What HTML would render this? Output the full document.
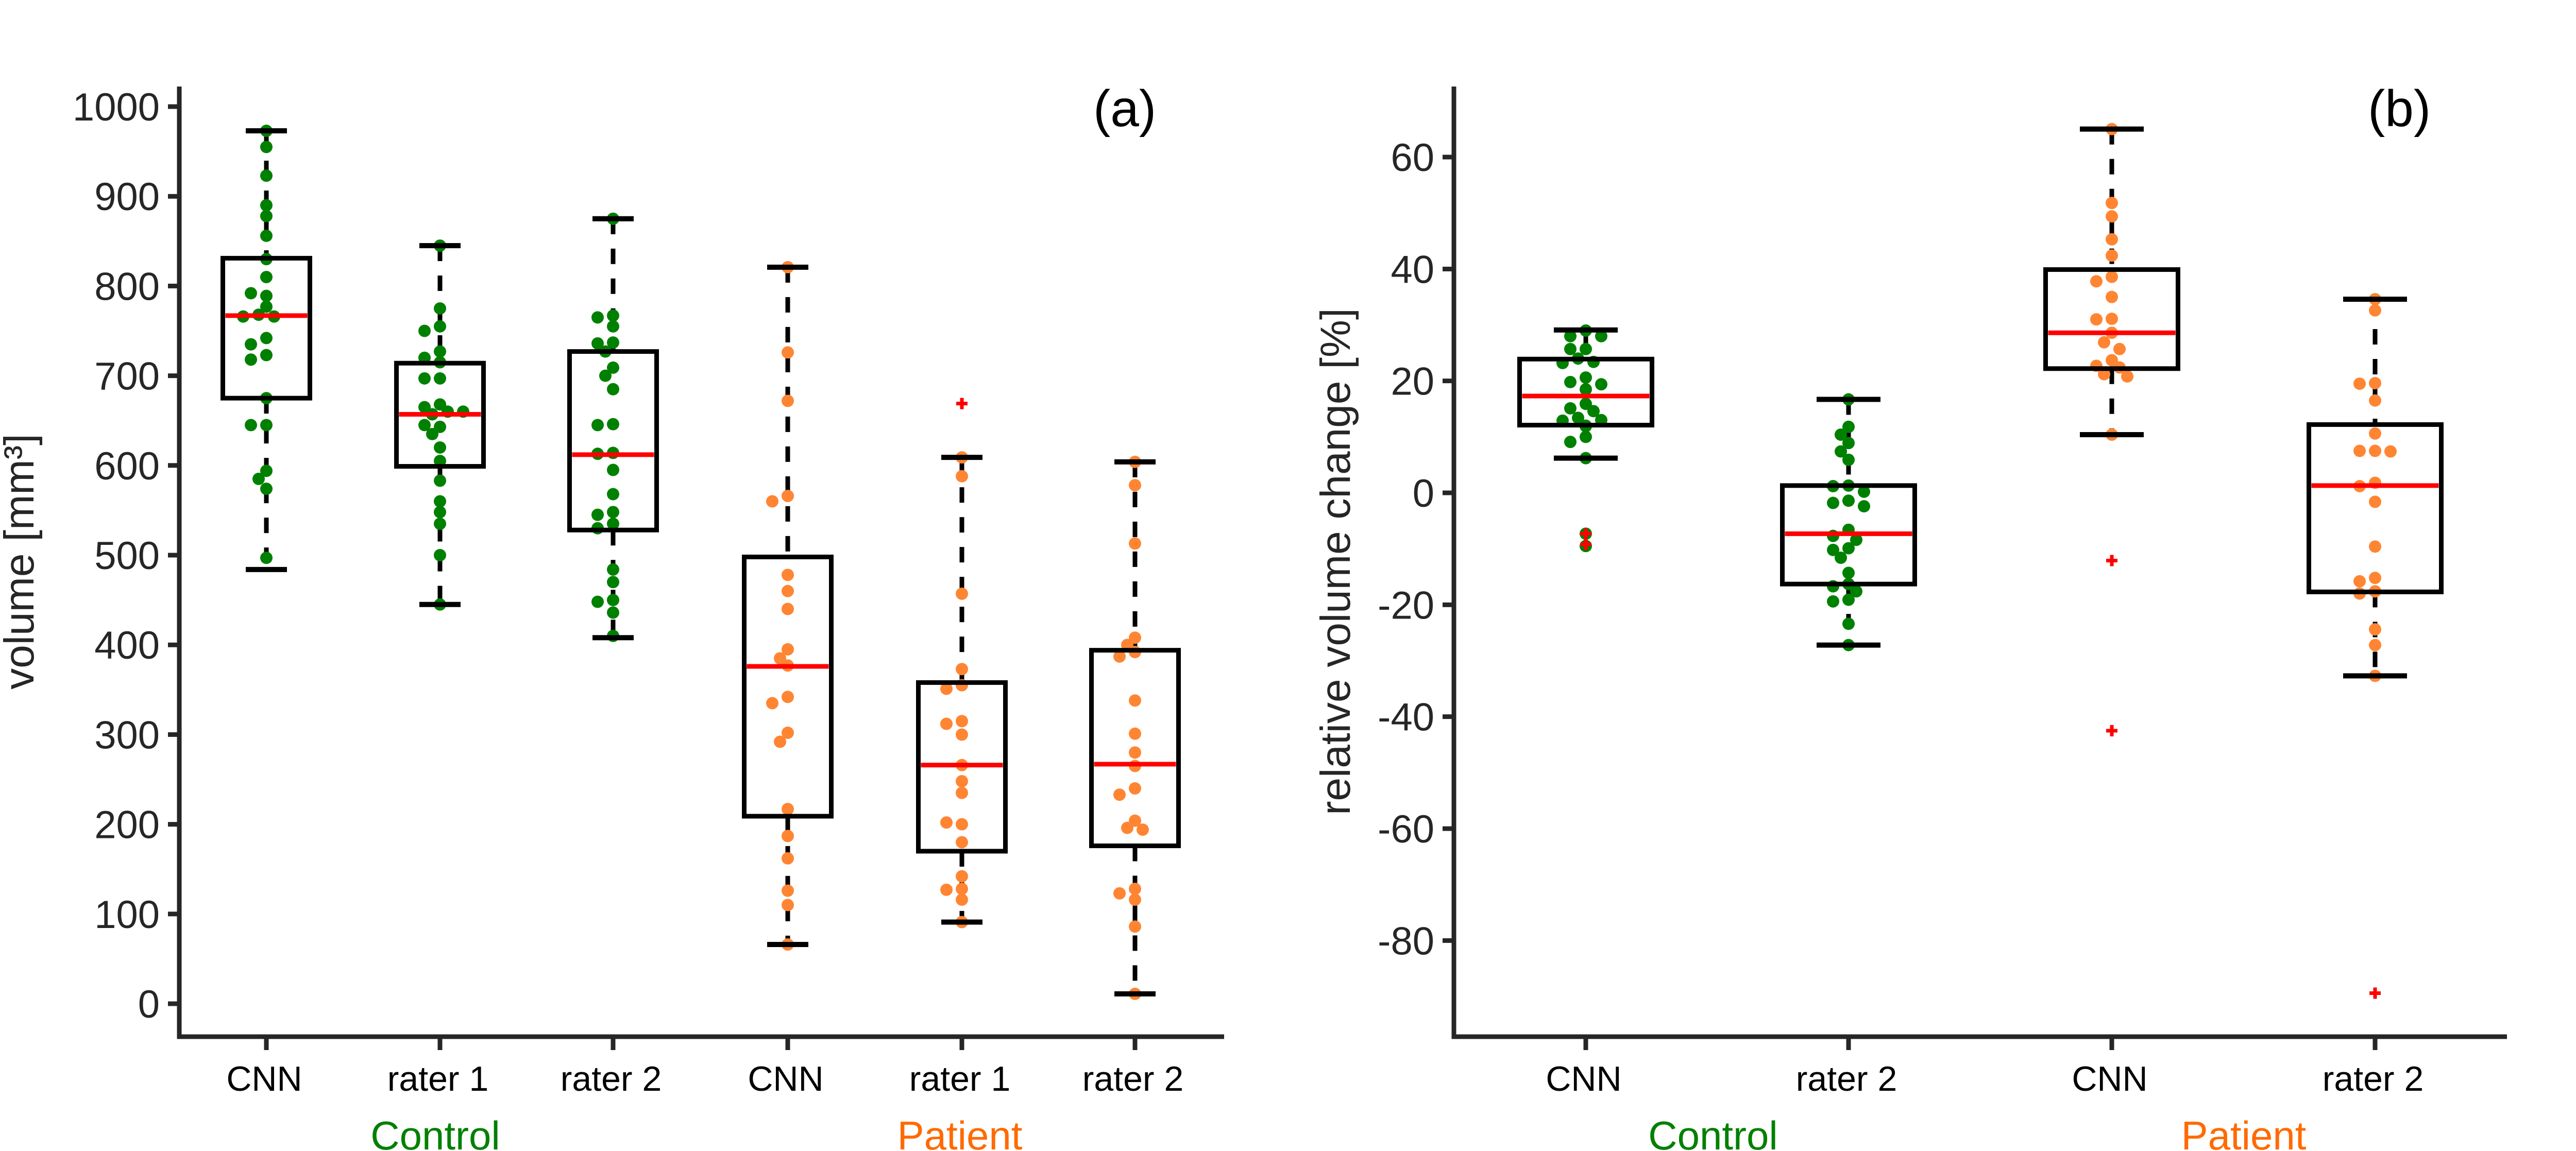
<!DOCTYPE html>
<html><head><meta charset="utf-8"><style>
html,body{margin:0;padding:0;background:#fff;}
svg{display:block;font-family:"Liberation Sans","DejaVu Sans",sans-serif;}
</style></head><body>
<svg id="chart" width="5114" height="2235" viewBox="0 0 5114 2235" xmlns="http://www.w3.org/2000/svg">
<g id="pa"></g>
<g id="pb"></g>
</svg>
<script>
// ---- Panel (a) data: volume [mm3] ----
const catsA = ["CNN","rater 1","rater 2","CNN","rater 1","rater 2"];
const groupA = ["control","control","control","patient","patient","patient"];
const ticksA = [0,100,200,300,400,500,600,700,800,900,1000];
const boxLowA = [675,599,528,209,170,176];
const boxHighA = [831,714,727,498,358,394];
const medianA = [767,657,612,376,266,267];
const whiskLowA = [484,445,408,66,91,11];
const whiskHighA = [973,845,875,821,609,604];
const outliersA = [[],[],[],[],[669],[]];
const ptsA = [
 [973,955,923,890,878,856,830,810,789,792,777,768,766,766,742,735,723,718,675,645,645,594,585,574,497],
 [845,775,755,750,727,720,715,697,697,668,665,660,660,657,643,645,635,620,605,583,560,548,535,500,445],
 [875,767,765,755,737,736,727,709,700,685,646,645,614,613,595,568,548,545,535,530,484,470,450,448,436,410],
 [821,726,672,566,560,478,460,440,395,385,377,342,335,302,292,217,187,162,126,110,66],
 [609,588,457,373,355,351,315,312,300,266,248,235,200,202,180,142,128,127,116,91],
 [604,578,513,408,400,392,387,338,301,280,265,240,233,204,196,194,128,123,116,86,11]
];
// ---- Panel (b) data: relative volume change [%] ----
const catsB = ["CNN","rater 2","CNN","rater 2"];
const groupB = ["control","control","patient","patient"];
const ticksB = [-80,-60,-40,-20,0,20,40,60];
const boxLowB = [12.1,-16.3,22.2,-17.7];
const boxHighB = [23.9,1.3,39.9,12.2];
const medianB = [17.3,-7.3,28.6,1.3];
const whiskLowB = [6.2,-27.2,10.4,-32.7];
const whiskHighB = [29.1,16.7,65,34.6];
const outliersB = [[-7.3,-9.2],[],[-12.1,-42.5],[-89.4]];
const ptsB = [
 [29,28,28,25.7,25.7,24,23.4,23.2,20.6,19.8,19.4,18.5,15.9,15.1,14.6,13.4,13,12.9,12,11.9,10,9.1,6.2,-7.3,-9.5],
 [16.7,11.8,10.4,8.9,7.4,5.9,1.3,1.2,0.2,-1.4,-1.8,-2.4,-6.6,-7.7,-8.4,-9.9,-10.2,-11.6,-14.3,-16.3,-16.7,-17.6,-19.1,-19.4,-23.4,-27.2],
 [65,51.8,49.4,45.3,42.4,38.6,37.8,35,31.1,31,28.6,26.9,25.7,23.7,22.7,22.4,21.2,20.8,10.4],
 [34.6,32.6,19.6,19.5,16.5,10.6,7.5,7.5,7.4,1.8,1.2,-1.6,-9.6,-15.2,-15.8,-17.6,-18,-24.4,-27.2,-32.7]
];

const NS="http://www.w3.org/2000/svg";
function mk(parent, tag, attrs, text){
  const e=document.createElementNS(NS,tag);
  for(const k in attrs) e.setAttribute(k,attrs[k]);
  if(text!==undefined) e.textContent=text;
  parent.appendChild(e); return e;
}
const COL={control:"#008000",patient:"#ff8533"};
const LABCOL={control:"#008000",patient:"#ff6a00"};

function panel(g, cfg){
  const {x0,x1,yTop,yBot,vA,pA,vB,pB,cats,groups,ticks,bl,bh,med,wl,wh,outs,pts,boxW,capW,ylabel,ylabelX,tag,tagX,catX}=cfg;
  const yS=v=>pA+(v-vA)*(pB-pA)/(vB-vA);
  const ax=mk(g,"path",{d:`M${x0} ${yTop} L${x0} ${yBot} L${x1} ${yBot}`,fill:"none",stroke:"#262626","stroke-width":9});
  
  
  ticks.forEach(t=>{
    const y=yS(t);
    const tl=mk(g,"line",{x1:x0-22,x2:x0,y1:y,y2:y,stroke:"#262626","stroke-width":9});
    
    
    const tx=mk(g,"text",{x:x0-38,y:y+27,"text-anchor":"end","font-size":76,fill:"#262626"},String(t));
    
    
  });
  const yc=(yTop+yBot)/2;
  const yl=mk(g,"text",{x:ylabelX,y:yc,"text-anchor":"middle","font-size":82,fill:"#262626",transform:`rotate(-90 ${ylabelX} ${yc})`},ylabel);
  
  
  const tg=mk(g,"text",{x:tagX,y:245,"font-size":100,fill:"#000"},tag);
  
  
  cats.forEach((c,i)=>{
    const cx=catX[i];
    const xt=mk(g,"line",{x1:cx,x2:cx,y1:yBot,y2:yBot+26,stroke:"#262626","stroke-width":9});
    
    
    const xl=mk(g,"text",{x:cx-4,y:2118,"text-anchor":"middle","font-size":68,fill:"#000"},c);
    
    
    const w1=mk(g,"line",{x1:cx,x2:cx,y1:yS(wh[i]),y2:yS(bh[i]),stroke:"#000","stroke-width":9,"stroke-dasharray":"30 28"});
    
    
    const w2=mk(g,"line",{x1:cx,x2:cx,y1:yS(bl[i]),y2:yS(wl[i]),stroke:"#000","stroke-width":9,"stroke-dasharray":"30 28"});
    
    
    const placed=[];
    pts[i].forEach(v=>{
      const y=yS(v);
      let off=0;
      const cands=[0,-1,1,-2,2,-3,3];
      for(const k of cands){
        const ox=k*15;
        if(!placed.some(p=>Math.hypot(p[0]-ox,p[1]-y)<20)){off=ox;break;}
      }
      placed.push([off,y]);
      const d=mk(g,"ellipse",{cx:cx+off,cy:y,rx:12,ry:12,fill:COL[groups[i]]});
      
      
    });
    const c1=mk(g,"line",{x1:cx-capW/2,x2:cx+capW/2,y1:yS(wh[i]),y2:yS(wh[i]),stroke:"#000","stroke-width":10});
    
    
    const c2=mk(g,"line",{x1:cx-capW/2,x2:cx+capW/2,y1:yS(wl[i]),y2:yS(wl[i]),stroke:"#000","stroke-width":10});
    
    
    const b=mk(g,"rect",{x:cx-boxW/2,y:yS(bh[i]),width:boxW,height:yS(bl[i])-yS(bh[i]),fill:"none",stroke:"#000","stroke-width":9});
    
    
    const m=mk(g,"line",{x1:cx-boxW/2+5,x2:cx+boxW/2-5,y1:yS(med[i]),y2:yS(med[i]),stroke:"#ff0000","stroke-width":9});
    
    
    outs[i].forEach(v=>{
      const y=yS(v);
      const o=mk(g,"path",{d:`M${cx-11} ${y} H${cx+11} M${cx} ${y-11} V${y+11}`,stroke:"#ff0000","stroke-width":7,fill:"none"});
      
      
    });
  });
  cfg.groupLabels.forEach(gl=>{
    const t=mk(g,"text",{x:gl.x,y:2232,"text-anchor":"middle","font-size":78,fill:LABCOL[gl.g]},gl.t);
    
    
  });
}

panel(document.getElementById('pa'),{
  x0:348,x1:2376,yTop:168,yBot:2013,vA:0,pA:1949,vB:1000,pB:207,
  cats:catsA,groups:groupA,ticks:ticksA,bl:boxLowA,bh:boxHighA,med:medianA,wl:whiskLowA,wh:whiskHighA,outs:outliersA,pts:ptsA,
  boxW:169,capW:80,ylabel:"volume [mm³]",ylabelX:65,tag:"(a)",tagX:2122,
  catX:[517,854,1190,1529,1867,2203],
  groupLabels:[{x:845,t:"Control",g:"control"},{x:1863,t:"Patient",g:"patient"}]
});
panel(document.getElementById('pb'),{
  x0:2822,x1:4866,yTop:168,yBot:2013,vA:0,pA:957,vB:60,pB:305,
  cats:catsB,groups:groupB,ticks:ticksB,bl:boxLowB,bh:boxHighB,med:medianB,wl:whiskLowB,wh:whiskHighB,outs:outliersB,pts:ptsB,
  boxW:257,capW:124,ylabel:"relative volume change [%]",ylabelX:2620,tag:"(b)",tagX:4596,
  catX:[3078,3588,4099,4610],
  groupLabels:[{x:3325,t:"Control",g:"control"},{x:4355,t:"Patient",g:"patient"}]
});
</script>
</body></html>
